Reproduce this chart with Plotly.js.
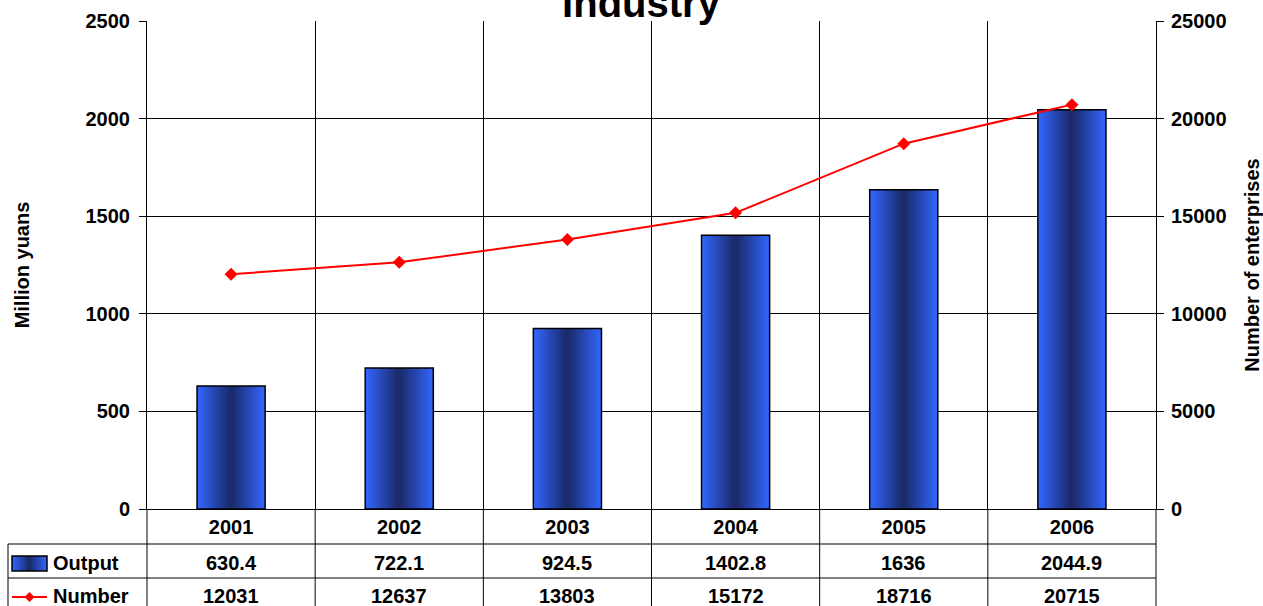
<!DOCTYPE html>
<html>
<head>
<meta charset="utf-8">
<script src="https://cdn.plot.ly/plotly-3.0.1.min.js"></script>
<style>html,body{margin:0;padding:0;background:#fff;}#chart{width:1263px;height:606px;}</style>
</head>
<body>
<div id="chart"></div>
<script>
// ---- data ----
const years = ['2001', '2002', '2003', '2004', '2005', '2006'];
const output = [630.4, 722.1, 924.5, 1402.8, 1636, 2044.9];
const number = [12031, 12637, 13803, 15172, 18716, 20715];
const seriesNames = ['Output', 'Number'];
const chartTitle = 'Industry';
const leftTitle = 'Million yuans';
const rightTitle = 'Number of enterprises';

// ---- styling ----
const FONT = '"Liberation Sans", Arial, sans-serif';
const BAR_W = 0.405;
const LAYERS = 12;
const light = [50, 100, 250];
const dark = [27, 43, 108];
function mix(t) {
  return 'rgb(' + light.map((c, i) => Math.round(c + (dark[i] - c) * t)).join(',') + ')';
}

const traces = [];
for (let k = 0; k < LAYERS; k++) {
  traces.push({
    type: 'bar', x: years, y: output, width: BAR_W * (1 - k / LAYERS),
    marker: {color: mix(k / (LAYERS - 1)), line: {width: 0}},
    hoverinfo: 'skip', showlegend: false
  });
}
traces.push({
  type: 'bar', x: years, y: output, width: BAR_W, name: seriesNames[0],
  marker: {color: 'rgba(0,0,0,0)', line: {width: 1.5, color: '#000'}},
  showlegend: false
});
traces.push({
  type: 'scatter', mode: 'lines+markers', x: years, y: number, yaxis: 'y2', name: seriesNames[1],
  line: {color: '#ff0000', width: 2},
  marker: {symbol: 'diamond', size: 10, color: '#ff0000'},
  showlegend: false
});

// table geometry (pixel -> paper helpers)
const ML = 147, MT = 21, PW = 1009, PH = 488;
const px = v => (v - ML) / PW;
const py = v => (MT + PH - v) / PH;
const BOTTOM = py(612);

const shapes = [];
const lineStyle = {color: '#000', width: 1};
// horizontal table lines
[544, 578].forEach(yy => shapes.push({type: 'line', xref: 'paper', yref: 'paper', x0: px(8), x1: 1, y0: py(yy), y1: py(yy), line: lineStyle}));
// table left border
shapes.push({type: 'line', xref: 'paper', yref: 'paper', x0: px(8), x1: px(8), y0: py(544), y1: BOTTOM, line: lineStyle});
// axis lines extended through table
[0, 1].forEach(xx => shapes.push({type: 'line', xref: 'paper', yref: 'paper', x0: xx, x1: xx, y0: 0, y1: BOTTOM, line: lineStyle}));
// internal vertical table lines at category boundaries
for (let i = 0; i < years.length - 1; i++) {
  shapes.push({type: 'line', xref: 'x', yref: 'paper', x0: i + 0.5, x1: i + 0.5, y0: 0, y1: BOTTOM, line: lineStyle});
}
// legend key: output swatch (gradient)
const sx0 = 12, sx1 = 47, sy0 = 556, sy1 = 571, sMid = (sx0 + sx1) / 2;
for (let k = 0; k < LAYERS; k++) {
  const half = (sx1 - sx0) / 2 * (1 - k / LAYERS);
  shapes.push({type: 'rect', xref: 'paper', yref: 'paper', x0: px(sMid - half), x1: px(sMid + half), y0: py(sy0), y1: py(sy1),
    fillcolor: mix(k / (LAYERS - 1)), line: {width: 0}});
}
shapes.push({type: 'rect', xref: 'paper', yref: 'paper', x0: px(sx0), x1: px(sx1), y0: py(sy0), y1: py(sy1), line: {color: '#000', width: 1.5}});
// legend key: number line + diamond
const ly = 597;
shapes.push({type: 'line', xref: 'paper', yref: 'paper', x0: px(12), x1: px(47), y0: py(ly), y1: py(ly), line: {color: '#ff0000', width: 2}});
const dc = 29.5, dr = 5;
shapes.push({type: 'path', xref: 'paper', yref: 'paper',
  path: `M ${px(dc)} ${py(ly - dr)} L ${px(dc + dr)} ${py(ly)} L ${px(dc)} ${py(ly + dr)} L ${px(dc - dr)} ${py(ly)} Z`,
  fillcolor: '#ff0000', line: {width: 0}});

const tf = {family: FONT, size: 20, color: '#000', weight: 'bold'};
const annotations = [];
const rowY = [py(563), py(596)];
[output, number].forEach((arr, r) => {
  arr.forEach((v, i) => annotations.push({
    xref: 'x', yref: 'paper', x: i, y: rowY[r], text: '<b>' + String(v) + '</b>', showarrow: false,
    xanchor: 'center', yanchor: 'middle', font: tf
  }));
  annotations.push({
    xref: 'paper', yref: 'paper', x: px(51), y: rowY[r], text: '<b>' + seriesNames[r] + '</b>', showarrow: false,
    xanchor: 'left', yanchor: 'middle', font: tf
  });
});

const layout = {
  width: 1263, height: 606,
  margin: {l: ML, r: 1263 - ML - PW, t: MT, b: 606 - MT - PH, pad: 0},
  paper_bgcolor: '#fff', plot_bgcolor: '#fff',
  barmode: 'overlay',
  font: {family: FONT, color: '#000'},
  title: {text: '<b>' + chartTitle + '</b>', font: {family: FONT, size: 40, weight: 'bold', color: '#000'},
    xref: 'paper', x: px(641), xanchor: 'center', yref: 'container', y: 1 - 3 / 606, yanchor: 'middle'},
  xaxis: {
    type: 'category', range: [-0.5, years.length - 0.5], autorange: false,
    tickson: 'boundaries', showgrid: true, gridcolor: '#000', gridwidth: 1,
    ticks: '', showline: true, linecolor: '#000', linewidth: 1, tickfont: tf, ticklabelstandoff: 0,
    tickangle: 0, fixedrange: true
  },
  yaxis: {
    range: [0, 2500], dtick: 500, tick0: 0, showgrid: true, gridcolor: '#000', gridwidth: 1,
    zeroline: false, showline: true, linecolor: '#000', ticks: 'outside', ticklen: 7, tickcolor: '#000',
    tickfont: tf, ticklabelstandoff: 5, tickformat: 'd',
    title: {text: '<b>' + leftTitle + '</b>', font: {family: FONT, size: 20, weight: 'bold', color: '#000'}, standoff: 50},
    automargin: false, fixedrange: true
  },
  yaxis2: {
    overlaying: 'y', side: 'right', range: [0, 25000], dtick: 5000, tick0: 0, showgrid: false,
    zeroline: false, showline: true, linecolor: '#000', ticks: 'outside', ticklen: 7, tickcolor: '#000',
    tickfont: tf, ticklabelstandoff: 3, tickformat: 'd',
    title: {text: '<b>' + rightTitle + '</b>', font: {family: FONT, size: 20, weight: 'bold', color: '#000'}, standoff: 38},
    automargin: false, fixedrange: true
  },
  shapes: shapes,
  annotations: annotations
};

Plotly.newPlot('chart', traces, layout, {displayModeBar: false, staticPlot: true});
</script>
</body>
</html>
